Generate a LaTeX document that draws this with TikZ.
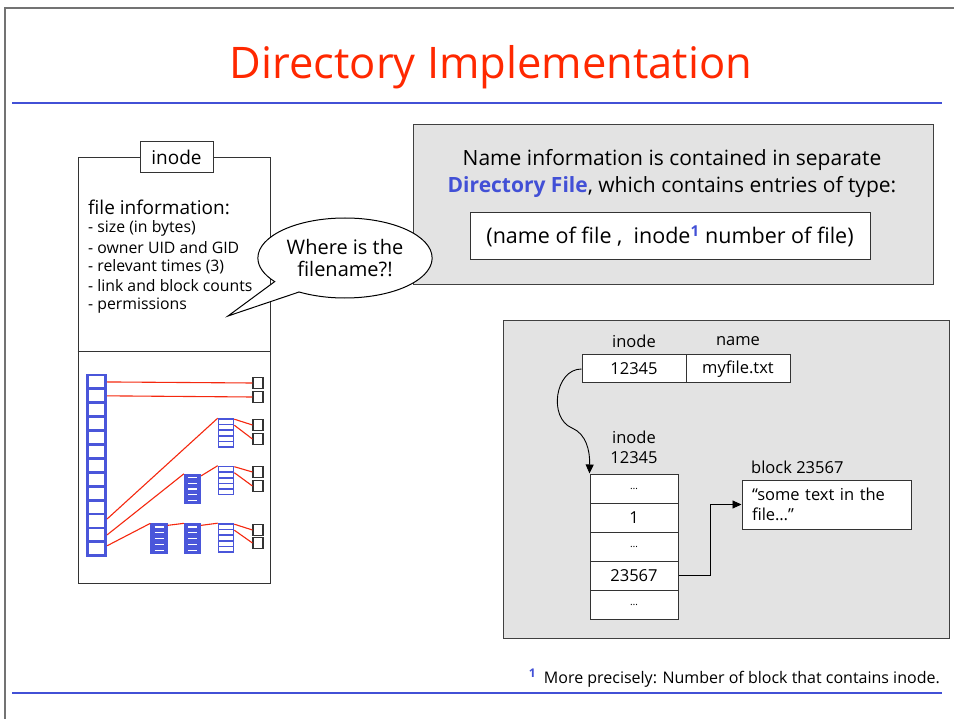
\documentclass[tikz,border=0pt]{standalone}
\usepackage{fontspec}
\setmainfont{Open Sans}
\usetikzlibrary{positioning}
\usetikzlibrary{arrows.meta}
\usetikzlibrary{shapes.callouts}
\definecolor{titlered}{RGB}{255,40,0}
\definecolor{rulerblue}{RGB}{66,80,214}
\definecolor{cellblue}{RGB}{74,86,218}
\definecolor{boxgray}{RGB}{227,227,227}
\definecolor{linkred}{RGB}{245,40,15}
\tikzset{bigcell/.style = {draw=cellblue, line width=2.8pt, fill=white,
                           minimum width=18.5pt, minimum height=13.9pt, inner sep=0}}
\tikzset{ptrstack/.style = {draw=cellblue, line width=1.6pt, fill=white,
                            minimum width=15pt, minimum height=28pt, inner sep=0,
    path picture={\foreach \k in {1,...,4}
      \draw[cellblue, line width=1.6pt]
        ([yshift=-\k*5.6pt]path picture bounding box.north west) --
        ([yshift=-\k*5.6pt]path picture bounding box.north east);}}}
\tikzset{fullstack/.style = {draw=cellblue, line width=1.3pt, fill=cellblue,
                             minimum width=16pt, minimum height=29pt, inner sep=0,
    path picture={\foreach \k in {1,...,5}
      \draw[white, line width=1.2pt]
        ([xshift=3.5pt,yshift=-\k*5.8pt+2.9pt]path picture bounding box.north west) --
        ([xshift=-3.5pt,yshift=-\k*5.8pt+2.9pt]path picture bounding box.north east);}}}
\tikzset{dblock/.style = {draw=black!80, line width=1.1pt, fill=white,
                          minimum width=10pt, minimum height=11pt, inner sep=0}}
\tikzset{link/.style = {draw=linkred, line width=1.1pt}}
\tikzset{graybox/.style = {draw=black!75, line width=1pt, fill=boxgray, inner sep=0}}
\tikzset{cell/.style = {draw=black!80, line width=1pt, fill=white, inner sep=0}}
\tikzset{infotext/.style = {anchor=west, inner sep=0, font=\fontsize{15.8}{17}\selectfont}}
\tikzset{ptr/.style = {draw=black, line width=0.9pt, -{Triangle[length=9pt,width=8pt]}}}
\tikzset{rule/.style = {draw=rulerblue, line width=2pt}}

\begin{document}
\begin{tikzpicture}[x=1pt, y=-1pt, font=\fontsize{17}{20}\selectfont]
  \useasboundingbox (0,0) rectangle (954,719);
  \fill[white] (0,0) rectangle (954,719);
  \draw[black!55, line width=1.2pt] (5,719) -- (5,8) -- (954,8);
  \node[text=titlered, font=\fontsize{43.5}{48}\selectfont] (title) at (491,67)
    {Directory Implementation};
  \draw[rule] (12,103) -- (942,103);
  \draw[rule] (12,693) -- (942,693);

  % inode record
  \node[cell, minimum width=192pt, minimum height=425pt] (inodebox) at (174,370.5) {};
  \draw[black!80, line width=1pt] (inodebox.west |- 0,352) -- (inodebox.east |- 0,352);
  \node[cell, minimum width=73pt, minimum height=31pt, font=\fontsize{19}{20}\selectfont]
    (inodehead) at (176.5,157.5) {inode};
  \node[infotext, font=\fontsize{19}{20}\selectfont] (fileinfo) at (88,207) {file information:};
  \foreach \t [count=\i] in {- size (in bytes), - owner UID and GID,
                             - relevant times (3), - link and block counts, - permissions}
    \node[infotext] (info\i) at (88,{228+19.3*(\i-1)}) {\t};

  \foreach \i in {1,...,13}
    \node[bigcell] (c\i) at (96.5,{375+13.9*(\i-0.5)}) {};
  \foreach \y [count=\i] in {383,397,425,439,472,486,530,543}
    \node[dblock] (d\i) at (258,\y) {};
  \node[ptrstack] (sa) at (226,433) {};
  \node[ptrstack] (sb) at (226,480.5) {};
  \node[ptrstack] (sd) at (226,538) {};
  \node[fullstack] (sc) at (192.5,489) {};
  \node[fullstack] (se) at (192.5,538.5) {};
  \node[fullstack] (sf) at (159,538.5) {};

  \draw[link] (c1.east) -- (d1.west);
  \draw[link] (c2.east) -- (d2.west);
  \draw[link] ([yshift=2pt]c11.east) -- (sa.north west);
  \draw[link] (c12.east) -- (sc.north west);
  \draw[link] ([yshift=-2pt]sc.north east) -- (sb.north west);
  \draw[link] ([yshift=3pt]c13.east) -- (sf.north west);
  \draw[link] ([yshift=-2pt]sf.north east) -- (se.north west);
  \draw[link] ([yshift=-2pt]se.north east) -- (sd.north west);
  \draw[link] ([yshift=-1pt]sa.north east) -- (d3.west);
  \draw[link] ([yshift=-7pt]sa.north east) -- (d4.west);
  \draw[link] ([yshift=-1pt]sb.north east) -- (d5.west);
  \draw[link] ([yshift=-7pt]sb.north east) -- (d6.west);
  \draw[link] ([yshift=-1pt]sd.north east) -- (d7.west);
  \draw[link] ([yshift=-7pt]sd.north east) -- (d8.west);

  % directory file
  \node[graybox, minimum width=520pt, minimum height=160pt] (namebox) at (673,205) {};
  \node[align=center, font=\fontsize{21}{27}\selectfont] (nametext) at (672,173.5)
    {Name information is contained in separate\\
     {\bfseries\color{rulerblue}Directory File}, which contains entries of type:};
  \node[cell, minimum width=400pt, minimum height=47pt, font=\fontsize{21.5}{22}\selectfont]
    (entry) at (670,236.5)
    {(name of file ,\ \ inode\textsuperscript{\bfseries\color{rulerblue}1} number of file)};

  \node[ellipse callout, draw=black, line width=1pt, fill=white, align=center,
        minimum width=168pt, minimum height=80pt, callout pointer arc=22,
        font=\fontsize{20}{22}\selectfont,
        callout absolute pointer={(228,316)}] (bubble) at (345,258)
    {Where is the\\filename?!};

  % example lookup
  \node[graybox, minimum width=446pt, minimum height=317pt] (lookbox) at (726,479.5) {};
  \node[font=\fontsize{16.5}{17}\selectfont] (hino) at (634,341) {inode};
  \node[font=\fontsize{16.5}{17}\selectfont] (hname) at (738,341) {name};
  \node[cell, minimum width=104pt, minimum height=28pt, font=\fontsize{16.5}{17}\selectfont]
    (ino) at (634,369) {12345};
  \node[cell, minimum width=104pt, minimum height=28pt, font=\fontsize{16.5}{17}\selectfont]
    (nm) at (738,369) {myfile.txt};
  \node[align=center, font=\fontsize{16.5}{20}\selectfont] (inolabel) at (634,447)
    {inode\\12345};
  \foreach \t [count=\i] in {{\fontsize{10}{10}\selectfont\dots}, 1,
                             {\fontsize{10}{10}\selectfont\dots}, 23567,
                             {\fontsize{10}{10}\selectfont\dots}}
    \node[cell, minimum width=88pt, minimum height=29pt, font=\fontsize{16.5}{17}\selectfont]
      (r\i) at (634,{488.5+29*(\i-1)}) {\t};
  \node[anchor=west, inner sep=0, font=\fontsize{16.5}{17}\selectfont] (blklabel) at (751,467)
    {block 23567};
  \node[cell, minimum width=169pt, minimum height=49pt, text width=149pt, align=left,
        font=\fontsize{16.5}{20}\selectfont] (blk) at (826.5,504.5)
    {“some text in the\\file…”};
  \draw[ptr] (ino.west) .. controls (555,369) and (548,418) .. (572,428)
    .. controls (586,434) and (590,450) .. (r1.north west);
  \draw[ptr] (r4.east) -- ++(32,0) |- (blk.west);

  \node[anchor=east, inner sep=0, font=\fontsize{16}{17}\selectfont] (footnote) at (940,678)
    {\raisebox{6pt}{\fontsize{12}{12}\selectfont\bfseries\color{rulerblue}1}\ \ More precisely: Number of block that contains inode.};
\end{tikzpicture}
\end{document}
